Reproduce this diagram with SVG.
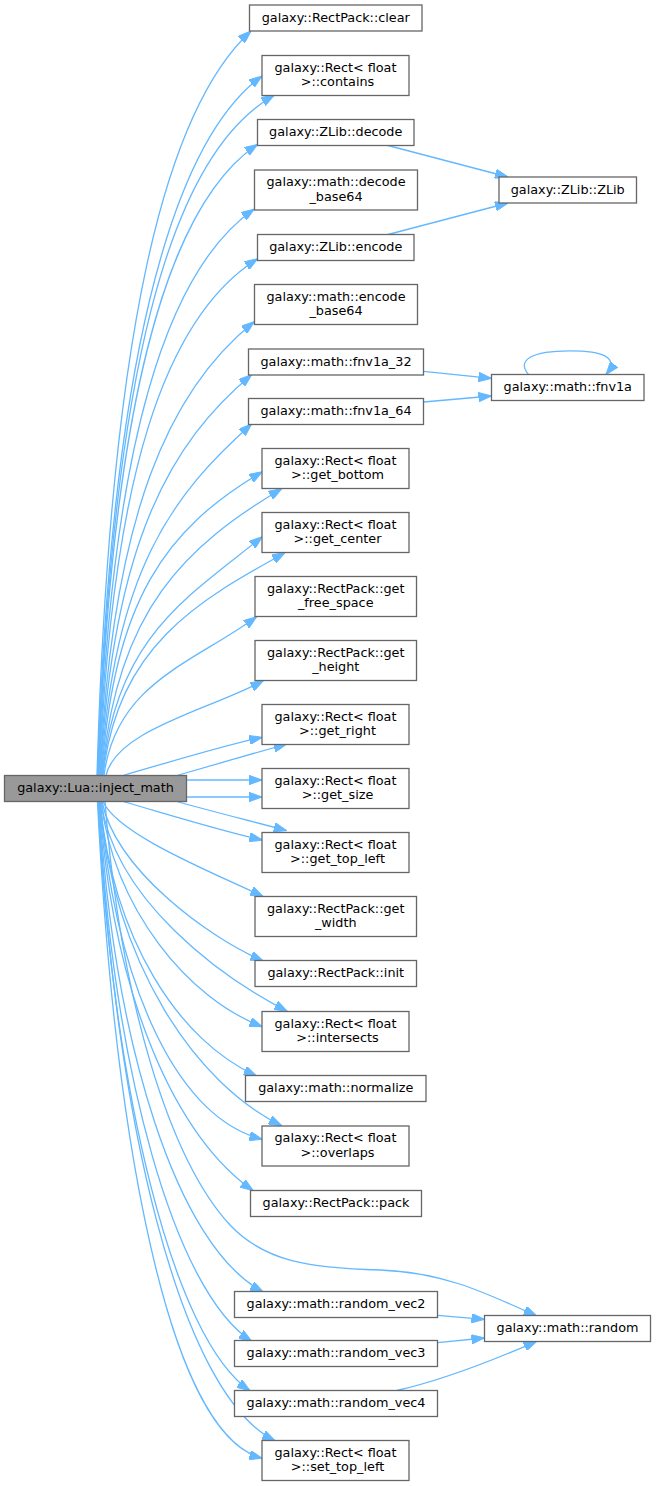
<svg xmlns="http://www.w3.org/2000/svg" width="656" height="1486" viewBox="0 0 656 1486">
<style>
.n rect{fill:#ffffff;stroke:#666666;stroke-width:1.3}
.src rect{fill:#999999;stroke:#666666;stroke-width:1.3}
text{font-family:"DejaVu Sans","Liberation Sans",sans-serif;font-size:12.8px;fill:#000000;text-anchor:middle}
.e path{fill:none;stroke:#63b8ff;stroke-width:1.3;marker-end:url(#ah)}
</style>
<defs>
<marker id="ah" viewBox="0 0 13 9.4" refX="13" refY="4.7" markerWidth="13" markerHeight="9.4" markerUnits="userSpaceOnUse" orient="auto">
<path d="M0,0 L13,4.7 L0,9.4 z" fill="#63b8ff" stroke="#63b8ff" stroke-width="1"/>
</marker>
</defs>
<rect width="656" height="1486" fill="#ffffff"/>
<g id="edges" class="e">
<path d="M97,775.5 C110,330 165,110 251,31"/>
<path d="M97.5,775.5 C110.7,369.8 169.2,143.7 262,76"/>
<path d="M98,775.5 C112,381 166.9,155.3 274.3,95.3"/>
<path d="M98.5,775.5 C111.2,409.5 165.1,205.6 257.7,144.3"/>
<path d="M99,775.5 C111.4,447 165.4,270.5 254.3,209"/>
<path d="M99.5,775.5 C112.1,475.6 164.6,317.3 257.7,258.7"/>
<path d="M100,775.5 C112.3,512.2 170.5,388.3 254.3,321.7"/>
<path d="M100.5,775.5 C112.6,542.9 171,441.8 251.7,374.7"/>
<path d="M101,775.5 C113,571.6 173.2,493.7 251.7,424"/>
<path d="M101.5,775.5 C114.4,599.2 165.1,529.3 262.3,471.7"/>
<path d="M102,775.5 C116,609 187.2,545.1 281.7,488.7"/>
<path d="M102.5,775.5 C115,637 188.6,596.6 262.3,536.7"/>
<path d="M103,775.5 C117.5,646 197.5,601.1 285,552.7"/>
<path d="M104,775.5 C116,683 192,663.7 256.7,616.7"/>
<path d="M106,775.5 C116,730 210.6,709.3 263.3,680.7"/>
<path d="M123,775.5 C170,762 225,745 262.3,737.3"/>
<path d="M177,775.5 C210,766 255,753 286.7,744"/>
<path d="M186.5,780 L262,780"/>
<path d="M186.5,797 L262,797"/>
<path d="M177,801.5 C210,811 255,822 286.7,830.7"/>
<path d="M123,801.5 C170,815 225,832 262.3,840"/>
<path d="M103,801.5 C118,835 213.7,872.9 263.3,896.7"/>
<path d="M102,801.5 C116,870 208.2,937.4 263.3,961"/>
<path d="M101,801.5 C115,900 220.6,977.1 287.3,1011.3"/>
<path d="M101,801.5 C115,910 187.7,998 262.3,1026.7"/>
<path d="M100,801.5 C113,940 179.1,1041.2 256.7,1076"/>
<path d="M100,801.5 C114,965 196.3,1084.1 281.7,1125.7"/>
<path d="M100,801.5 C114,970 170.2,1115.9 262.3,1139.3"/>
<path d="M99.5,801.5 C113,1000 177.4,1138.8 253.3,1190.7"/>
<path d="M105,801.5 C120,1000 170,1160 230,1225 C265,1262 310,1268 380,1270 C440,1272 480,1290 536.7,1316"/>
<path d="M99,801.5 C114,1045 176.6,1246.3 263.3,1292"/>
<path d="M98.5,801.5 C113,1070 174.4,1291.4 251.7,1341.3"/>
<path d="M98,801.5 C113,1095 173.8,1339.2 250,1390.7"/>
<path d="M98,801.5 C115,1120 179.9,1393.8 275,1440.7"/>
<path d="M97.5,801.5 C114,1130 166.4,1434 262.3,1458.3"/>
<path d="M388,145.5 L508,177"/>
<path d="M388,234.5 L508,203"/>
<path d="M423.5,371.3 L491.5,378.3"/>
<path d="M423.5,402 L491.5,396"/>
<path d="M528.5,374.5 C516,360 532,350.8 570,350.8 C602,350.8 620,357 606,374.5"/>
<path d="M437.5,1315.3 L484.5,1319.3"/>
<path d="M437.5,1342.7 L484.5,1338"/>
<path d="M396.7,1390.5 C430,1383 480,1366 536.7,1341.3"/>
</g>
<g id="inject_math" class="src"><rect x="4.5" y="775.5" width="182" height="26"/><text x="95.5" y="792">galaxy::Lua::inject_math</text></g>
<g id="clear" class="n"><rect x="249.5" y="5" width="172.5" height="26"/><text x="335.75" y="21.5">galaxy::RectPack::clear</text></g>
<g id="contains" class="n"><rect x="262" y="55.5" width="147" height="40"/><text x="335.5" y="71.7">galaxy::Rect&lt; float</text><text x="337.5" y="86.1">&gt;::contains</text></g>
<g id="zlib_decode" class="n"><rect x="257.5" y="119.5" width="156.5" height="26"/><text x="335.75" y="136">galaxy::ZLib::decode</text></g>
<g id="decode_base64" class="n"><rect x="254.5" y="170" width="163" height="40"/><text x="336" y="186.2">galaxy::math::decode</text><text x="336" y="200.6">_base64</text></g>
<g id="zlib_encode" class="n"><rect x="257.5" y="234.5" width="156.5" height="26"/><text x="335.75" y="251">galaxy::ZLib::encode</text></g>
<g id="zlib_zlib" class="n"><rect x="499" y="177" width="137.5" height="26"/><text x="567.75" y="193.5">galaxy::ZLib::ZLib</text></g>
<g id="encode_base64" class="n"><rect x="254.5" y="284.5" width="163" height="40"/><text x="336" y="300.7">galaxy::math::encode</text><text x="336" y="315.1">_base64</text></g>
<g id="fnv1a_32" class="n"><rect x="248.5" y="349" width="175" height="26"/><text x="336" y="365.5">galaxy::math::fnv1a_32</text></g>
<g id="fnv1a_64" class="n"><rect x="248.5" y="398.5" width="175" height="26"/><text x="336" y="415">galaxy::math::fnv1a_64</text></g>
<g id="fnv1a" class="n"><rect x="491.5" y="374.5" width="152.5" height="26"/><text x="567.75" y="391">galaxy::math::fnv1a</text></g>
<g id="get_bottom" class="n"><rect x="262" y="448.5" width="147" height="40"/><text x="335.5" y="464.7">galaxy::Rect&lt; float</text><text x="337.5" y="479.1">&gt;::get_bottom</text></g>
<g id="get_center" class="n"><rect x="262" y="512.5" width="147" height="40"/><text x="335.5" y="528.7">galaxy::Rect&lt; float</text><text x="337.5" y="543.1">&gt;::get_center</text></g>
<g id="get_free_space" class="n"><rect x="255" y="576.5" width="161.5" height="40"/><text x="335.75" y="592.7">galaxy::RectPack::get</text><text x="335.75" y="607.1">_free_space</text></g>
<g id="get_height" class="n"><rect x="255" y="640.5" width="161.5" height="40"/><text x="335.75" y="656.7">galaxy::RectPack::get</text><text x="335.75" y="671.1">_height</text></g>
<g id="get_right" class="n"><rect x="262" y="704.5" width="147" height="40"/><text x="335.5" y="720.7">galaxy::Rect&lt; float</text><text x="337.5" y="735.1">&gt;::get_right</text></g>
<g id="get_size" class="n"><rect x="262" y="768.5" width="147" height="40"/><text x="335.5" y="784.7">galaxy::Rect&lt; float</text><text x="337.5" y="799.1">&gt;::get_size</text></g>
<g id="get_top_left" class="n"><rect x="262" y="832.5" width="147" height="40"/><text x="335.5" y="848.7">galaxy::Rect&lt; float</text><text x="337.5" y="863.1">&gt;::get_top_left</text></g>
<g id="get_width" class="n"><rect x="255" y="896.5" width="161.5" height="40"/><text x="335.75" y="912.7">galaxy::RectPack::get</text><text x="335.75" y="927.1">_width</text></g>
<g id="init" class="n"><rect x="255" y="960.5" width="161.5" height="26"/><text x="335.75" y="977">galaxy::RectPack::init</text></g>
<g id="intersects" class="n"><rect x="262" y="1011.5" width="147" height="40"/><text x="335.5" y="1027.7">galaxy::Rect&lt; float</text><text x="337.5" y="1042.1">&gt;::intersects</text></g>
<g id="normalize" class="n"><rect x="245.5" y="1075.5" width="180.5" height="26"/><text x="335.75" y="1092">galaxy::math::normalize</text></g>
<g id="overlaps" class="n"><rect x="262" y="1126" width="147" height="40"/><text x="335.5" y="1142.2">galaxy::Rect&lt; float</text><text x="337.5" y="1156.6">&gt;::overlaps</text></g>
<g id="pack" class="n"><rect x="250.5" y="1190.5" width="171" height="26"/><text x="336" y="1207">galaxy::RectPack::pack</text></g>
<g id="random_vec2" class="n"><rect x="234.5" y="1291.5" width="203" height="26"/><text x="336" y="1308">galaxy::math::random_vec2</text></g>
<g id="random_vec3" class="n"><rect x="234.5" y="1340.5" width="203" height="26"/><text x="336" y="1357">galaxy::math::random_vec3</text></g>
<g id="random_vec4" class="n"><rect x="234.5" y="1390.5" width="203" height="26"/><text x="336" y="1407">galaxy::math::random_vec4</text></g>
<g id="set_top_left" class="n"><rect x="262" y="1440.5" width="147" height="40"/><text x="335.5" y="1456.7">galaxy::Rect&lt; float</text><text x="337.5" y="1471.1">&gt;::set_top_left</text></g>
<g id="random" class="n"><rect x="484.5" y="1315.5" width="166" height="26"/><text x="567.5" y="1332">galaxy::math::random</text></g>
</svg>
